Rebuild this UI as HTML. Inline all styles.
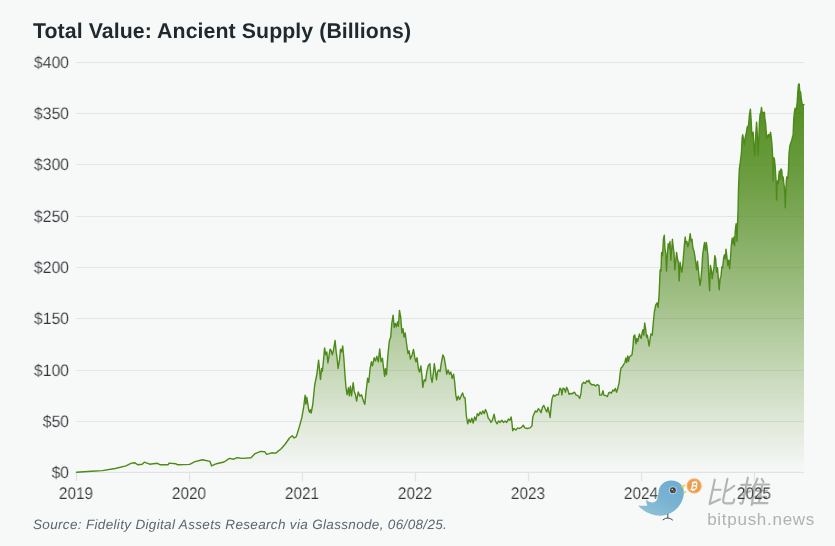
<!DOCTYPE html>
<html><head><meta charset="utf-8">
<style>
html,body{margin:0;padding:0;}
body{width:835px;height:546px;background:#f7f8f8;position:relative;overflow:hidden;font-family:"Liberation Sans",sans-serif;}
.title,.yl,.xl,.src{will-change:transform;text-rendering:geometricPrecision;}
.yl,.xl{-webkit-text-stroke:0.15px #f7f8f8;}
.title{position:absolute;left:32.5px;top:19.2px;font-size:21.3px;font-weight:bold;color:#1f2a2e;letter-spacing:0.08px;white-space:nowrap;line-height:24px;}
.yl{position:absolute;left:9.1px;width:60px;text-align:right;font-size:16.5px;color:#2e3336;line-height:20px;height:20px;white-space:nowrap;transform:scaleX(0.955);transform-origin:100% 50%;}
.xl{position:absolute;top:483.6px;width:60px;text-align:center;font-size:16.8px;color:#2e3336;line-height:20px;white-space:nowrap;transform:scaleX(0.915);transform-origin:50% 50%;}
.src{position:absolute;left:32.5px;top:515.5px;font-size:13.5px;font-style:italic;color:#5b6770;white-space:nowrap;line-height:18px;letter-spacing:0.33px;}
svg{position:absolute;left:0;top:0;}
</style></head><body>
<div class="title">Total Value: Ancient Supply (Billions)</div>
<svg width="835" height="546" viewBox="0 0 835 546">
<defs>
<linearGradient id="g" gradientUnits="userSpaceOnUse" x1="0" y1="84" x2="0" y2="472">
<stop offset="0" stop-color="#4f8a1b" stop-opacity="1"/>
<stop offset="0.25" stop-color="#4f8a1b" stop-opacity="0.82"/>
<stop offset="0.55" stop-color="#4f8a1b" stop-opacity="0.52"/>
<stop offset="0.8" stop-color="#4f8a1b" stop-opacity="0.22"/>
<stop offset="1" stop-color="#4f8a1b" stop-opacity="0.0"/>
</linearGradient>
</defs>
<line x1="76" x2="804" y1="62.5" y2="62.5" stroke="#e4e5e7" stroke-width="1.2"/>
<line x1="76" x2="804" y1="113.5" y2="113.5" stroke="#e4e5e7" stroke-width="1.2"/>
<line x1="76" x2="804" y1="164.5" y2="164.5" stroke="#e4e5e7" stroke-width="1.2"/>
<line x1="76" x2="804" y1="216.5" y2="216.5" stroke="#e4e5e7" stroke-width="1.2"/>
<line x1="76" x2="804" y1="267.5" y2="267.5" stroke="#e4e5e7" stroke-width="1.2"/>
<line x1="76" x2="804" y1="318.5" y2="318.5" stroke="#e4e5e7" stroke-width="1.2"/>
<line x1="76" x2="804" y1="370.5" y2="370.5" stroke="#e4e5e7" stroke-width="1.2"/>
<line x1="76" x2="804" y1="421.5" y2="421.5" stroke="#e4e5e7" stroke-width="1.2"/>

<line x1="76" x2="804" y1="472.4" y2="472.4" stroke="#e1e2e8" stroke-width="1.3"/>
<line x1="76.5" x2="76.5" y1="472" y2="481.3" stroke="#e2e3e8" stroke-width="1.2"/>
<line x1="189.5" x2="189.5" y1="472" y2="481.3" stroke="#e2e3e8" stroke-width="1.2"/>
<line x1="302.5" x2="302.5" y1="472" y2="481.3" stroke="#e2e3e8" stroke-width="1.2"/>
<line x1="415.5" x2="415.5" y1="472" y2="481.3" stroke="#e2e3e8" stroke-width="1.2"/>
<line x1="528.5" x2="528.5" y1="472" y2="481.3" stroke="#e2e3e8" stroke-width="1.2"/>
<line x1="641.5" x2="641.5" y1="472" y2="481.3" stroke="#e2e3e8" stroke-width="1.2"/>
<line x1="754.5" x2="754.5" y1="472" y2="481.3" stroke="#e2e3e8" stroke-width="1.2"/>

<path d="M76.5,472.2 L91.5,471.3 L102.3,470.6 L115.2,468.5 L126.0,465.9 L131.4,463.1 L134.6,462.7 L137.9,464.8 L142.2,464.2 L144.3,462.2 L149.7,464.2 L157.3,463.3 L160.5,464.8 L168.0,464.8 L169.1,463.1 L175.6,463.7 L177.7,464.8 L189.6,464.4 L195.0,461.6 L202.5,459.7 L210.0,461.4 L211.6,465.9 L216.5,463.7 L224.0,462.0 L229.5,458.4 L233.8,459.2 L237.0,457.7 L242.4,458.4 L251.0,457.7 L255.1,453.6 L260.6,451.4 L264.7,451.7 L266.6,454.4 L271.6,452.8 L275.7,453.1 L281.2,448.7 L285.3,444.0 L289.5,438.0 L292.2,435.8 L294.1,438.0 L296.3,436.6 L299.1,427.5 L301.8,417.9 L303.7,406.9 L305.1,395.1 L305.9,404.2 L306.8,397.3 L308.7,409.7 L309.5,412.4 L310.3,409.7 L311.2,413.0 L312.8,404.2 L314.7,385.0 L316.9,374.0 L318.6,360.2 L319.7,371.2 L320.5,379.5 L321.6,368.5 L322.4,371.2 L323.5,360.2 L324.6,347.9 L325.7,354.7 L326.8,352.0 L327.9,363.0 L329.0,356.1 L330.1,349.2 L331.2,350.6 L332.3,354.7 L333.4,350.6 L335.1,340.4 L336.2,352.0 L337.0,357.5 L338.1,368.5 L339.5,360.2 L340.5,349.2 L341.6,352.0 L342.7,345.9 L343.8,357.5 L344.9,374.0 L346.0,387.7 L347.1,394.6 L348.5,387.7 L349.3,395.9 L350.4,386.3 L351.5,395.9 L353.2,382.7 L354.3,391.8 L355.5,394.8 L356.6,401.1 L358.2,392.0 L359.9,396.2 L361.5,394.8 L363.2,400.3 L364.8,404.4 L365.9,393.4 L367.6,378.3 L368.7,382.4 L370.1,368.7 L371.4,361.8 L372.5,365.9 L374.2,357.7 L375.5,361.0 L376.9,356.3 L378.3,361.8 L379.7,348.9 L381.0,361.8 L382.4,358.2 L383.5,367.3 L384.6,376.4 L385.4,368.7 L386.5,374.7 L387.9,354.9 L389.3,341.2 L390.7,337.1 L391.8,323.4 L393.1,315.1 L394.2,327.5 L395.3,323.4 L396.4,326.9 L397.5,322.0 L398.4,326.1 L399.5,310.4 L400.8,317.9 L401.9,333.0 L403.0,328.8 L404.1,337.1 L405.2,333.0 L406.6,344.0 L408.0,353.6 L409.1,350.8 L410.4,359.1 L412.1,354.9 L413.5,349.5 L414.8,357.7 L415.9,361.8 L417.0,357.7 L418.4,368.7 L419.5,372.0 L420.9,365.9 L422.0,376.9 L422.8,387.4 L424.2,379.7 L425.5,381.0 L426.9,371.4 L428.3,365.4 L429.9,363.7 L431.0,376.9 L432.1,382.4 L433.2,374.2 L434.3,363.7 L435.4,371.4 L436.5,379.7 L437.6,371.4 L438.7,370.0 L440.1,371.4 L441.5,361.8 L442.9,354.9 L444.2,357.7 L445.6,365.9 L446.7,374.2 L448.1,370.0 L449.5,374.2 L450.8,372.0 L452.2,378.3 L453.6,374.2 L454.7,382.4 L455.8,394.8 L456.9,400.3 L458.2,396.2 L459.6,399.5 L461.0,396.2 L462.6,392.9 L464.0,397.5 L465.1,398.0 L466.3,415.5 L467.7,423.8 L469.1,419.1 L470.4,422.4 L471.8,418.3 L473.2,423.0 L474.6,416.9 L475.9,420.2 L477.3,413.6 L478.7,415.5 L480.1,412.0 L481.4,414.2 L482.8,410.9 L484.2,413.6 L485.5,409.5 L486.9,412.8 L488.3,418.3 L489.7,419.7 L491.0,422.4 L492.4,420.2 L494.1,414.2 L495.4,421.0 L497.1,423.8 L498.5,421.0 L500.1,422.4 L501.8,420.2 L503.4,422.4 L505.1,421.0 L506.7,422.4 L508.4,419.1 L510.0,420.2 L511.1,416.9 L511.9,422.4 L512.7,430.7 L514.1,428.5 L515.8,430.1 L517.7,427.9 L519.6,428.5 L521.5,427.4 L523.2,425.2 L524.8,427.9 L527.3,428.5 L530.1,427.9 L532.0,425.7 L532.8,416.9 L534.2,413.6 L535.5,410.9 L536.9,412.0 L538.3,408.7 L539.7,410.1 L541.0,412.8 L542.4,407.3 L543.8,405.4 L545.2,408.7 L546.8,412.0 L547.9,407.3 L549.3,412.8 L550.1,417.5 L550.9,408.7 L552.0,399.1 L553.4,394.9 L554.8,396.3 L556.7,394.4 L558.4,394.9 L560.0,388.1 L561.1,389.5 L561.9,394.9 L563.0,388.1 L564.4,388.9 L565.5,392.2 L566.6,387.3 L567.7,389.5 L569.1,394.4 L570.4,393.5 L572.2,393.7 L574.4,392.2 L576.2,395.1 L577.9,395.5 L579.7,398.4 L581.0,393.3 L581.9,384.5 L583.6,382.3 L585.4,383.4 L586.7,380.8 L588.5,381.9 L588.9,380.1 L590.2,383.4 L592.0,384.9 L593.7,384.5 L595.5,386.0 L597.3,384.5 L599.0,385.6 L599.7,395.1 L601.6,395.1 L603.0,390.7 L603.8,395.1 L605.6,395.5 L607.4,396.6 L608.7,392.9 L610.0,392.2 L611.3,393.3 L612.9,390.0 L614.0,391.1 L615.3,388.5 L616.6,392.2 L617.9,387.8 L619.2,382.3 L620.1,373.5 L621.0,368.0 L622.3,366.9 L623.6,364.7 L624.9,362.5 L625.8,358.1 L626.7,362.5 L627.6,355.9 L628.5,361.4 L629.3,357.0 L630.7,355.9 L632.0,354.8 L632.9,347.1 L633.7,336.2 L634.8,335.1 L635.9,343.8 L636.8,338.4 L637.7,341.6 L638.6,337.3 L639.5,334.0 L640.3,336.6 L641.2,338.4 L642.1,332.9 L643.0,329.6 L643.8,335.1 L644.7,323.0 L645.6,328.5 L646.5,337.3 L647.4,335.1 L648.2,340.5 L649.1,346.0 L650.0,339.5 L650.9,334.0 L652.2,335.1 L653.3,322.7 L654.4,311.7 L655.7,305.1 L657.0,302.9 L658.1,307.3 L659.0,296.3 L659.7,280.9 L660.1,269.9 L661.0,271.0 L661.6,252.4 L662.5,255.7 L663.4,239.2 L664.3,235.2 L664.9,248.0 L665.8,253.5 L666.5,271.0 L667.4,254.6 L668.2,243.6 L669.1,248.0 L670.0,241.4 L670.9,260.1 L671.8,248.0 L672.4,239.2 L673.3,248.0 L674.0,252.4 L674.8,269.9 L675.7,261.2 L676.6,252.4 L677.5,259.0 L678.4,262.3 L679.2,280.9 L680.1,262.3 L681.0,267.7 L681.9,272.1 L682.7,265.5 L683.6,254.6 L684.5,243.6 L685.2,237.0 L686.0,243.6 L686.9,241.4 L687.8,246.9 L688.7,243.6 L689.6,238.1 L690.2,233.7 L691.1,241.4 L692.0,239.2 L692.9,248.0 L694.0,251.3 L694.8,255.7 L695.7,262.3 L696.6,269.9 L697.5,261.2 L698.4,269.9 L699.2,278.7 L700.1,285.3 L701.0,278.7 L701.9,267.7 L702.7,254.6 L703.6,248.0 L704.5,242.5 L705.4,250.2 L706.3,242.5 L707.1,248.0 L708.0,256.8 L708.9,278.7 L709.6,290.8 L710.4,265.5 L711.3,269.9 L712.2,278.7 L713.1,272.1 L714.0,267.7 L714.8,255.7 L715.7,259.0 L716.6,272.1 L717.5,267.7 L718.4,278.7 L719.2,289.7 L720.1,278.7 L721.0,276.5 L721.9,266.6 L722.7,267.7 L723.6,257.9 L724.5,254.6 L725.4,259.0 L726.0,249.1 L726.9,256.8 L727.8,265.5 L728.7,260.1 L729.6,268.8 L730.4,259.0 L731.3,245.8 L732.2,238.1 L733.1,243.6 L734.0,237.0 L734.6,245.8 L735.3,230.4 L736.1,223.8 L737.0,241.4 L737.6,222.0 L738.0,211.5 L738.5,188.5 L739.3,169.2 L740.3,162.2 L741.5,152.0 L742.1,138.5 L742.7,134.6 L743.6,139.7 L744.4,144.9 L745.3,137.2 L746.2,133.3 L747.2,126.9 L748.5,125.6 L749.5,114.1 L750.4,109.2 L751.1,119.2 L751.7,132.1 L752.4,135.9 L753.1,132.1 L753.9,144.9 L754.7,155.8 L755.3,144.9 L755.9,132.1 L756.6,122.1 L757.2,132.1 L757.7,146.8 L758.1,155.1 L758.8,138.5 L759.4,123.1 L760.1,114.1 L760.8,112.8 L761.5,107.4 L762.1,112.8 L762.9,112.2 L763.6,112.8 L764.4,112.2 L764.9,119.2 L765.6,123.1 L766.2,132.1 L766.8,138.5 L767.7,135.9 L768.5,134.6 L769.3,137.2 L769.9,134.6 L770.6,132.3 L771.2,137.2 L771.8,142.3 L772.4,151.3 L772.9,162.8 L773.1,180.8 L773.9,157.7 L774.4,159.0 L775.2,166.7 L775.7,175.6 L776.2,182.1 L776.6,200.0 L777.1,185.9 L777.7,180.8 L778.3,183.3 L778.8,175.6 L779.3,171.2 L779.9,179.5 L780.6,169.9 L781.2,169.0 L781.8,170.5 L782.5,179.5 L783.1,176.9 L783.9,184.6 L784.4,187.2 L784.9,196.2 L785.3,207.7 L785.8,192.3 L786.3,180.8 L786.8,176.9 L787.5,178.8 L788.0,175.6 L788.5,169.2 L789.0,154.0 L789.8,146.0 L790.8,142.9 L791.8,140.0 L792.6,136.5 L793.1,135.3 L793.7,119.9 L794.4,112.2 L795.1,108.3 L795.9,110.9 L796.5,108.3 L797.2,101.9 L797.8,91.7 L798.5,84.2 L799.2,84.0 L799.7,91.0 L800.5,91.7 L801.3,98.7 L802.1,103.8 L802.9,104.5 L804.0,104.7 L804,472.3 L76.5,472.3 Z" fill="url(#g)" stroke="none"/>
<path d="M76.5,472.2 L91.5,471.3 L102.3,470.6 L115.2,468.5 L126.0,465.9 L131.4,463.1 L134.6,462.7 L137.9,464.8 L142.2,464.2 L144.3,462.2 L149.7,464.2 L157.3,463.3 L160.5,464.8 L168.0,464.8 L169.1,463.1 L175.6,463.7 L177.7,464.8 L189.6,464.4 L195.0,461.6 L202.5,459.7 L210.0,461.4 L211.6,465.9 L216.5,463.7 L224.0,462.0 L229.5,458.4 L233.8,459.2 L237.0,457.7 L242.4,458.4 L251.0,457.7 L255.1,453.6 L260.6,451.4 L264.7,451.7 L266.6,454.4 L271.6,452.8 L275.7,453.1 L281.2,448.7 L285.3,444.0 L289.5,438.0 L292.2,435.8 L294.1,438.0 L296.3,436.6 L299.1,427.5 L301.8,417.9 L303.7,406.9 L305.1,395.1 L305.9,404.2 L306.8,397.3 L308.7,409.7 L309.5,412.4 L310.3,409.7 L311.2,413.0 L312.8,404.2 L314.7,385.0 L316.9,374.0 L318.6,360.2 L319.7,371.2 L320.5,379.5 L321.6,368.5 L322.4,371.2 L323.5,360.2 L324.6,347.9 L325.7,354.7 L326.8,352.0 L327.9,363.0 L329.0,356.1 L330.1,349.2 L331.2,350.6 L332.3,354.7 L333.4,350.6 L335.1,340.4 L336.2,352.0 L337.0,357.5 L338.1,368.5 L339.5,360.2 L340.5,349.2 L341.6,352.0 L342.7,345.9 L343.8,357.5 L344.9,374.0 L346.0,387.7 L347.1,394.6 L348.5,387.7 L349.3,395.9 L350.4,386.3 L351.5,395.9 L353.2,382.7 L354.3,391.8 L355.5,394.8 L356.6,401.1 L358.2,392.0 L359.9,396.2 L361.5,394.8 L363.2,400.3 L364.8,404.4 L365.9,393.4 L367.6,378.3 L368.7,382.4 L370.1,368.7 L371.4,361.8 L372.5,365.9 L374.2,357.7 L375.5,361.0 L376.9,356.3 L378.3,361.8 L379.7,348.9 L381.0,361.8 L382.4,358.2 L383.5,367.3 L384.6,376.4 L385.4,368.7 L386.5,374.7 L387.9,354.9 L389.3,341.2 L390.7,337.1 L391.8,323.4 L393.1,315.1 L394.2,327.5 L395.3,323.4 L396.4,326.9 L397.5,322.0 L398.4,326.1 L399.5,310.4 L400.8,317.9 L401.9,333.0 L403.0,328.8 L404.1,337.1 L405.2,333.0 L406.6,344.0 L408.0,353.6 L409.1,350.8 L410.4,359.1 L412.1,354.9 L413.5,349.5 L414.8,357.7 L415.9,361.8 L417.0,357.7 L418.4,368.7 L419.5,372.0 L420.9,365.9 L422.0,376.9 L422.8,387.4 L424.2,379.7 L425.5,381.0 L426.9,371.4 L428.3,365.4 L429.9,363.7 L431.0,376.9 L432.1,382.4 L433.2,374.2 L434.3,363.7 L435.4,371.4 L436.5,379.7 L437.6,371.4 L438.7,370.0 L440.1,371.4 L441.5,361.8 L442.9,354.9 L444.2,357.7 L445.6,365.9 L446.7,374.2 L448.1,370.0 L449.5,374.2 L450.8,372.0 L452.2,378.3 L453.6,374.2 L454.7,382.4 L455.8,394.8 L456.9,400.3 L458.2,396.2 L459.6,399.5 L461.0,396.2 L462.6,392.9 L464.0,397.5 L465.1,398.0 L466.3,415.5 L467.7,423.8 L469.1,419.1 L470.4,422.4 L471.8,418.3 L473.2,423.0 L474.6,416.9 L475.9,420.2 L477.3,413.6 L478.7,415.5 L480.1,412.0 L481.4,414.2 L482.8,410.9 L484.2,413.6 L485.5,409.5 L486.9,412.8 L488.3,418.3 L489.7,419.7 L491.0,422.4 L492.4,420.2 L494.1,414.2 L495.4,421.0 L497.1,423.8 L498.5,421.0 L500.1,422.4 L501.8,420.2 L503.4,422.4 L505.1,421.0 L506.7,422.4 L508.4,419.1 L510.0,420.2 L511.1,416.9 L511.9,422.4 L512.7,430.7 L514.1,428.5 L515.8,430.1 L517.7,427.9 L519.6,428.5 L521.5,427.4 L523.2,425.2 L524.8,427.9 L527.3,428.5 L530.1,427.9 L532.0,425.7 L532.8,416.9 L534.2,413.6 L535.5,410.9 L536.9,412.0 L538.3,408.7 L539.7,410.1 L541.0,412.8 L542.4,407.3 L543.8,405.4 L545.2,408.7 L546.8,412.0 L547.9,407.3 L549.3,412.8 L550.1,417.5 L550.9,408.7 L552.0,399.1 L553.4,394.9 L554.8,396.3 L556.7,394.4 L558.4,394.9 L560.0,388.1 L561.1,389.5 L561.9,394.9 L563.0,388.1 L564.4,388.9 L565.5,392.2 L566.6,387.3 L567.7,389.5 L569.1,394.4 L570.4,393.5 L572.2,393.7 L574.4,392.2 L576.2,395.1 L577.9,395.5 L579.7,398.4 L581.0,393.3 L581.9,384.5 L583.6,382.3 L585.4,383.4 L586.7,380.8 L588.5,381.9 L588.9,380.1 L590.2,383.4 L592.0,384.9 L593.7,384.5 L595.5,386.0 L597.3,384.5 L599.0,385.6 L599.7,395.1 L601.6,395.1 L603.0,390.7 L603.8,395.1 L605.6,395.5 L607.4,396.6 L608.7,392.9 L610.0,392.2 L611.3,393.3 L612.9,390.0 L614.0,391.1 L615.3,388.5 L616.6,392.2 L617.9,387.8 L619.2,382.3 L620.1,373.5 L621.0,368.0 L622.3,366.9 L623.6,364.7 L624.9,362.5 L625.8,358.1 L626.7,362.5 L627.6,355.9 L628.5,361.4 L629.3,357.0 L630.7,355.9 L632.0,354.8 L632.9,347.1 L633.7,336.2 L634.8,335.1 L635.9,343.8 L636.8,338.4 L637.7,341.6 L638.6,337.3 L639.5,334.0 L640.3,336.6 L641.2,338.4 L642.1,332.9 L643.0,329.6 L643.8,335.1 L644.7,323.0 L645.6,328.5 L646.5,337.3 L647.4,335.1 L648.2,340.5 L649.1,346.0 L650.0,339.5 L650.9,334.0 L652.2,335.1 L653.3,322.7 L654.4,311.7 L655.7,305.1 L657.0,302.9 L658.1,307.3 L659.0,296.3 L659.7,280.9 L660.1,269.9 L661.0,271.0 L661.6,252.4 L662.5,255.7 L663.4,239.2 L664.3,235.2 L664.9,248.0 L665.8,253.5 L666.5,271.0 L667.4,254.6 L668.2,243.6 L669.1,248.0 L670.0,241.4 L670.9,260.1 L671.8,248.0 L672.4,239.2 L673.3,248.0 L674.0,252.4 L674.8,269.9 L675.7,261.2 L676.6,252.4 L677.5,259.0 L678.4,262.3 L679.2,280.9 L680.1,262.3 L681.0,267.7 L681.9,272.1 L682.7,265.5 L683.6,254.6 L684.5,243.6 L685.2,237.0 L686.0,243.6 L686.9,241.4 L687.8,246.9 L688.7,243.6 L689.6,238.1 L690.2,233.7 L691.1,241.4 L692.0,239.2 L692.9,248.0 L694.0,251.3 L694.8,255.7 L695.7,262.3 L696.6,269.9 L697.5,261.2 L698.4,269.9 L699.2,278.7 L700.1,285.3 L701.0,278.7 L701.9,267.7 L702.7,254.6 L703.6,248.0 L704.5,242.5 L705.4,250.2 L706.3,242.5 L707.1,248.0 L708.0,256.8 L708.9,278.7 L709.6,290.8 L710.4,265.5 L711.3,269.9 L712.2,278.7 L713.1,272.1 L714.0,267.7 L714.8,255.7 L715.7,259.0 L716.6,272.1 L717.5,267.7 L718.4,278.7 L719.2,289.7 L720.1,278.7 L721.0,276.5 L721.9,266.6 L722.7,267.7 L723.6,257.9 L724.5,254.6 L725.4,259.0 L726.0,249.1 L726.9,256.8 L727.8,265.5 L728.7,260.1 L729.6,268.8 L730.4,259.0 L731.3,245.8 L732.2,238.1 L733.1,243.6 L734.0,237.0 L734.6,245.8 L735.3,230.4 L736.1,223.8 L737.0,241.4 L737.6,222.0 L738.0,211.5 L738.5,188.5 L739.3,169.2 L740.3,162.2 L741.5,152.0 L742.1,138.5 L742.7,134.6 L743.6,139.7 L744.4,144.9 L745.3,137.2 L746.2,133.3 L747.2,126.9 L748.5,125.6 L749.5,114.1 L750.4,109.2 L751.1,119.2 L751.7,132.1 L752.4,135.9 L753.1,132.1 L753.9,144.9 L754.7,155.8 L755.3,144.9 L755.9,132.1 L756.6,122.1 L757.2,132.1 L757.7,146.8 L758.1,155.1 L758.8,138.5 L759.4,123.1 L760.1,114.1 L760.8,112.8 L761.5,107.4 L762.1,112.8 L762.9,112.2 L763.6,112.8 L764.4,112.2 L764.9,119.2 L765.6,123.1 L766.2,132.1 L766.8,138.5 L767.7,135.9 L768.5,134.6 L769.3,137.2 L769.9,134.6 L770.6,132.3 L771.2,137.2 L771.8,142.3 L772.4,151.3 L772.9,162.8 L773.1,180.8 L773.9,157.7 L774.4,159.0 L775.2,166.7 L775.7,175.6 L776.2,182.1 L776.6,200.0 L777.1,185.9 L777.7,180.8 L778.3,183.3 L778.8,175.6 L779.3,171.2 L779.9,179.5 L780.6,169.9 L781.2,169.0 L781.8,170.5 L782.5,179.5 L783.1,176.9 L783.9,184.6 L784.4,187.2 L784.9,196.2 L785.3,207.7 L785.8,192.3 L786.3,180.8 L786.8,176.9 L787.5,178.8 L788.0,175.6 L788.5,169.2 L789.0,154.0 L789.8,146.0 L790.8,142.9 L791.8,140.0 L792.6,136.5 L793.1,135.3 L793.7,119.9 L794.4,112.2 L795.1,108.3 L795.9,110.9 L796.5,108.3 L797.2,101.9 L797.8,91.7 L798.5,84.2 L799.2,84.0 L799.7,91.0 L800.5,91.7 L801.3,98.7 L802.1,103.8 L802.9,104.5 L804.0,104.7" fill="none" stroke="#4d8a1a" stroke-width="1.4" stroke-linejoin="round" stroke-linecap="round"/>
<g id="wm">
<linearGradient id="bg" gradientUnits="userSpaceOnUse" x1="675" y1="481" x2="655" y2="516"><stop offset="0" stop-color="#70add3"/><stop offset="0.55" stop-color="#7ab3d2"/><stop offset="1" stop-color="#8dbfd5"/></linearGradient>
<!-- bird -->
<path d="M671.2,480.6 C678.4,480.4 683.9,485.6 683.9,492 C683.9,499.5 680,506.5 674,511 C668.5,515.2 661.5,516.5 655,515.2 C648,513.8 642,510 638.1,505.4 C641,505.9 644.5,505.9 647.4,505.4 C646.3,503.7 646,501.6 646.3,499.6 C647.8,501.3 650,502.6 652.3,502.6 C654.6,502.4 656.4,501.2 657.2,499.2 C658.2,496.4 658.3,493.6 658.7,490.8 C659.6,485 664.5,480.8 671.2,480.6 Z" fill="url(#bg)"/>
<!-- eye -->
<circle cx="672.9" cy="490.2" r="4.0" fill="#a3d0ec"/>
<circle cx="672.9" cy="490.2" r="2.9" fill="#4b3c38"/>
<circle cx="672.2" cy="489.5" r="0.75" fill="#f4efe9"/>
<circle cx="673.8" cy="491.1" r="0.55" fill="#cfc5bd"/>
<!-- beak -->
<path d="M680.6,485.8 L685.8,484.2 L683.3,488.6 Z" fill="#f2d43c"/>
<path d="M683.5,491.4 L687.1,491.1 L684.6,493.8 Z" fill="#f2d43c"/>
<!-- legs -->
<path d="M667.8,514.3 L667.8,518 M663,519.8 Q665.5,517.9 667.8,518 Q670.3,518 672.6,520" fill="none" stroke="#3a3a3a" stroke-width="0.9" stroke-linecap="round"/>
<!-- coin -->
<circle cx="694.2" cy="485.9" r="7.6" fill="#f3b36d"/>
<circle cx="694.2" cy="485.9" r="6.5" fill="#ea9d4f"/>
<g transform="translate(694.3,486) skewX(-12)" fill="none" stroke="#fff" stroke-width="1.25" stroke-linejoin="round" stroke-linecap="round">
<path d="M-1.9,-3.3 L-1.9,3.3 M-2.6,-3.3 L0.6,-3.3 C2.7,-3.3 2.7,-0.1 0.6,-0.1 L-1.9,-0.1 M0.6,-0.1 C3.3,-0.1 3.3,3.3 0.6,3.3 L-2.6,3.3 M-0.9,-4.6 L-0.9,-3.3 M0.7,-4.6 L0.7,-3.3 M-0.9,3.3 L-0.9,4.6 M0.7,3.3 L0.7,4.6"/>
</g>
<!-- 比推 -->
<g fill="none" stroke="#b5b4b4" stroke-width="2.15" stroke-linecap="round" stroke-linejoin="round">
<path d="M714.8,479.7 L709.6,504.1 L720.1,499.3 M713.2,489.7 L720.6,489.7"/>
<path d="M727.4,478.9 L723.2,499.8 Q722.7,503.3 725.6,503.3 L731.6,503.3 Q733.4,503.3 733.8,501.2 L734.2,499.3 M734.3,485.8 Q730,489.4 726,491.3"/>
<path d="M741.2,484.9 L750.8,484.9 M747.9,477.7 L742.7,502.6 Q742.2,504.6 740.2,503.1 M739.8,495.9 L749.8,491.2"/>
<path d="M757.5,478.7 Q755.5,484 752.5,488.8 M754.8,485.4 L751.7,505 M761.8,478.9 L763.4,482.1 M755.1,484.5 L769.2,484.5 M754.1,490.7 L767,490.7 M753.2,496.9 L766.1,496.9 M752.2,503.1 L767.5,503.1 M762.3,484.5 L758.9,503.1"/>
</g>
<text x="707.2" y="524.5" font-family="Liberation Sans, sans-serif" font-size="17px" letter-spacing="0.72" fill="#b3b1b1">bitpush.news</text>
</g>

</svg>
<div class="yl" style="top:52.8px">$400</div>
<div class="yl" style="top:103.8px">$350</div>
<div class="yl" style="top:154.8px">$300</div>
<div class="yl" style="top:206.8px">$250</div>
<div class="yl" style="top:257.8px">$200</div>
<div class="yl" style="top:308.8px">$150</div>
<div class="yl" style="top:360.8px">$100</div>
<div class="yl" style="top:411.8px">$50</div>
<div class="yl" style="top:462.8px">$0</div>

<div class="xl" style="left:46.2px">2019</div>
<div class="xl" style="left:159.2px">2020</div>
<div class="xl" style="left:272.2px">2021</div>
<div class="xl" style="left:385.2px">2022</div>
<div class="xl" style="left:498.2px">2023</div>
<div class="xl" style="left:611.2px">2024</div>
<div class="xl" style="left:724.2px">2025</div>

<div class="src">Source: Fidelity Digital Assets Research via Glassnode, 06/08/25.</div>
</body></html>
